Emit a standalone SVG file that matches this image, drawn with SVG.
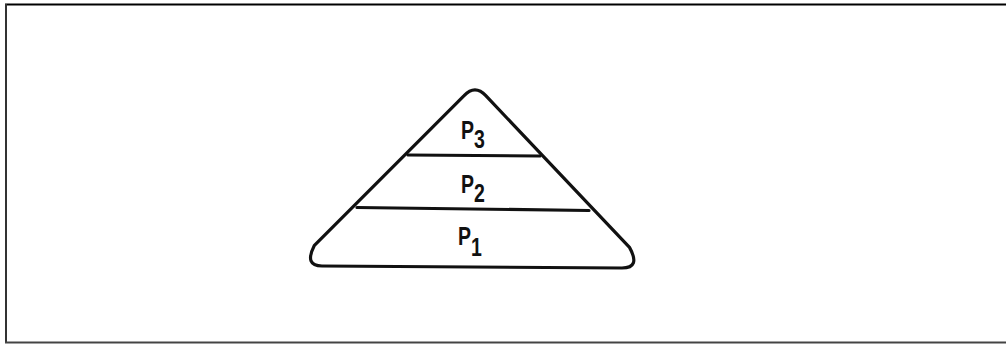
<svg xmlns="http://www.w3.org/2000/svg" width="1006" height="344" viewBox="0 0 1006 344">
  <style>
    .frame { stroke-width: 2; fill: none; }
    .shape { fill: none; stroke: #111; stroke-width: 3.2; stroke-linejoin: round; stroke-linecap: round; }
    .lbl { font-family: "Liberation Sans", "DejaVu Sans", sans-serif; font-size: 25px; font-weight: bold; fill: #111; }
  </style>
  <rect x="0" y="0" width="1006" height="344" fill="#ffffff"/>
  <g id="frame">
    <line class="frame" x1="5" y1="4.5" x2="1006" y2="4.5" stroke="#000"/>
    <line class="frame" x1="6" y1="4" x2="6" y2="343" stroke="#333"/>
    <line class="frame" x1="5" y1="342.5" x2="1006" y2="342.5" stroke="#444"/>
  </g>
  <g id="pyramid">
    <path class="shape" d="M 464.1 95.7 Q 475 84 485.8 95.7 L 629.5 247.4 Q 641 268 622 268 L 322 266 Q 304 266 314.2 245.7 Z"/>
  </g>
  <g id="connectors">
    <line class="shape" x1="408" y1="155" x2="540" y2="156"/>
    <line class="shape" x1="357" y1="207.5" x2="589" y2="210.5"/>
  </g>
  <g id="p3">
    <text class="lbl" transform="translate(461,139) scale(0.78,1)">P<tspan dy="9">3</tspan></text>
  </g>
  <g id="p2">
    <text class="lbl" transform="translate(461,193) scale(0.78,1)">P<tspan dy="9">2</tspan></text>
  </g>
  <g id="p1">
    <text class="lbl" transform="translate(458,245) scale(0.78,1)">P<tspan dy="11">1</tspan></text>
  </g>
</svg>
